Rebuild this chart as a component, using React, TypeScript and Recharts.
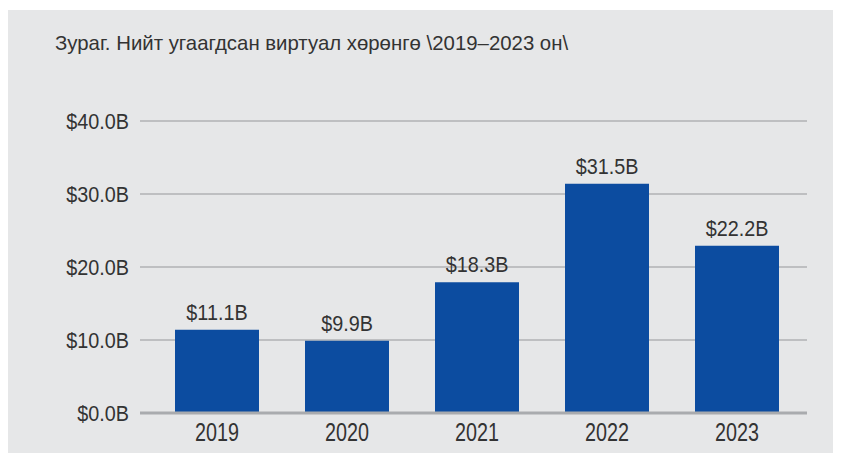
import React from 'react';
import { BarChart, Bar, XAxis, YAxis, CartesianGrid, LabelList } from 'recharts';

const years = ['2019', '2020', '2021', '2022', '2023'];
// bar heights as drawn in the source (billions USD)
const barValues = [11.4, 9.9, 17.9, 31.4, 22.9];
const barLabels = ['$11.1B', '$9.9B', '$18.3B', '$31.5B', '$22.2B'];
const yTicks = [0, 10, 20, 30, 40];

const data = years.map((year, i) => ({ year, value: barValues[i], label: barLabels[i] }));

const FONT = '"Liberation Sans", Arial, sans-serif';
const TEXT = '#333333';

// condensed-looking text: Liberation Sans squeezed horizontally
const CondText = ({ x, y, text, size, sx, anchor, dy }: any) => (
  <g transform={`translate(${x},${y}) scale(${sx},1)`}>
    <text x={0} y={0} dy={dy} textAnchor={anchor} fill={TEXT} fontSize={size} fontFamily={FONT}>
      {text}
    </text>
  </g>
);

const YTick = ({ x, y, payload }: any) => (
  <CondText x={x} y={y} text={`$${payload.value.toFixed(1)}B`} size={22.5} sx={0.88} anchor="end" dy="0.355em" />
);

const XTick = ({ x, y, payload }: any) => (
  <CondText x={x} y={y + 28} text={payload.value} size={26} sx={0.76} anchor="middle" dy={0} />
);

const BarLabel = ({ x, y, width, value }: any) => (
  <CondText x={x + width / 2} y={y - 10} text={value} size={22.5} sx={0.88} anchor="middle" dy={0} />
);

const App: React.FC = () => {
  return (
    <div
      style={{
        position: 'relative',
        width: 833,
        height: 443,
        marginTop: 2,
        background: '#e6e7e8',
        fontFamily: FONT,
      }}
    >
      <div
        style={{
          position: 'absolute',
          left: 47,
          top: 22,
          fontSize: 21,
          lineHeight: '21px',
          color: TEXT,
          whiteSpace: 'nowrap',
          transform: 'scaleX(0.97)',
          transformOrigin: 'left',
        }}
      >
        Зураг. Нийт угаагдсан виртуал хөрөнгө \2019–2023 он\
      </div>
      <BarChart
        width={833}
        height={443}
        data={data}
        margin={{ top: 111, right: 34, left: 0, bottom: 0 }}
      >
        <CartesianGrid vertical={false} stroke="#b1b2b4" strokeWidth={1.5} />
        <XAxis
          dataKey="year"
          height={40}
          padding={{ left: 12, right: 5 }}
          tickLine={false}
          tickSize={0}
          tickMargin={0}
          axisLine={{ stroke: '#a9abae', strokeWidth: 3 }}
          tick={<XTick />}
        />
        <YAxis
          width={132}
          domain={[0, 40]}
          ticks={yTicks}
          interval={0}
          tickLine={false}
          axisLine={false}
          tickSize={0}
          tickMargin={11}
          tick={<YTick />}
        />
        <Bar dataKey="value" fill="#0c4ca0" barSize={84} isAnimationActive={false}>
          <LabelList dataKey="label" content={<BarLabel />} />
        </Bar>
      </BarChart>
    </div>
  );
};

export default App;
